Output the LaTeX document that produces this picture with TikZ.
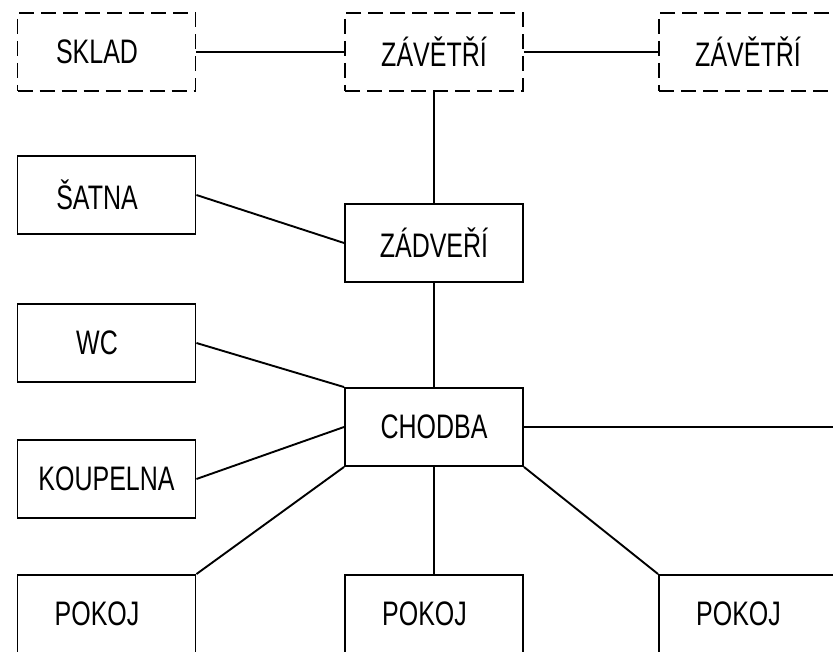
\documentclass[tikz,border=0pt]{standalone}
\usepackage{fontspec}
\usepackage{tikz}
\usetikzlibrary{positioning,calc}
\newfontfamily\roomfont{Liberation Sans}[FakeStretch=0.735]
\newcommand{\toleft}[1]{\hspace*{-19pt}#1}
\tikzset{
    room/.style={draw, line width=1.9pt, minimum width=178pt, minimum height=78pt, inner sep=0pt,
        font=\roomfont\fontsize{34}{38}\selectfont},
    outroom/.style={room, dash pattern=on 15pt off 7pt},
    link/.style={line width=1.9pt}
}

\begin{document}
\begin{tikzpicture}[x=1pt, y=-1pt]
    \useasboundingbox (0,0) rectangle (833,652);
    \clip (0,0) rectangle (833,652);

    \node[outroom] (sklad) at (106.5, 52) {\toleft{SKLAD}};
    \node[outroom] (zavetri) at (434, 52) {ZÁVĚTŘÍ};
    \node[outroom] (zavetriB) at (748, 52) {ZÁVĚTŘÍ};

    \node[room] (satna) at (106.5, 195) {\toleft{ŠATNA}};
    \node[room] (zadveri) at (434, 243) {ZÁDVEŘÍ};
    \node[room] (wc) at (106.5, 343) {\toleft{WC}};
    \node[room] (chodba) at (434, 427) {CHODBA};
    \node[room] (koupelna) at (106.5, 479) {KOUPELNA};

    \node[room] (pokojA) at (106.5, 614) {\toleft{POKOJ}};
    \node[room] (pokojB) at (434, 614) {\toleft{POKOJ}};
    \node[room] (pokojC) at (748, 614) {\toleft{POKOJ}};
    \coordinate (chodbaOut) at (833, 427);

    \draw[link] (sklad.east) -- (zavetri.west);
    \draw[link] (zavetri.east) -- (zavetriB.west);
    \draw[link] (zavetri.south) -- (zadveri.north);
    \draw[link] (satna.east) -- (zadveri.west);
    \draw[link] (zadveri.south) -- (chodba.north);
    \draw[link] (wc.east) -- (chodba.north west);
    \draw[link] (koupelna.east) -- (chodba.west);
    \draw[link] (chodba.east) -- (chodbaOut);
    \draw[link] (chodba.south west) -- (pokojA.north east);
    \draw[link] (chodba.south) -- (pokojB.north);
    \draw[link] (chodba.south east) -- (pokojC.north west);
\end{tikzpicture}
\end{document}
